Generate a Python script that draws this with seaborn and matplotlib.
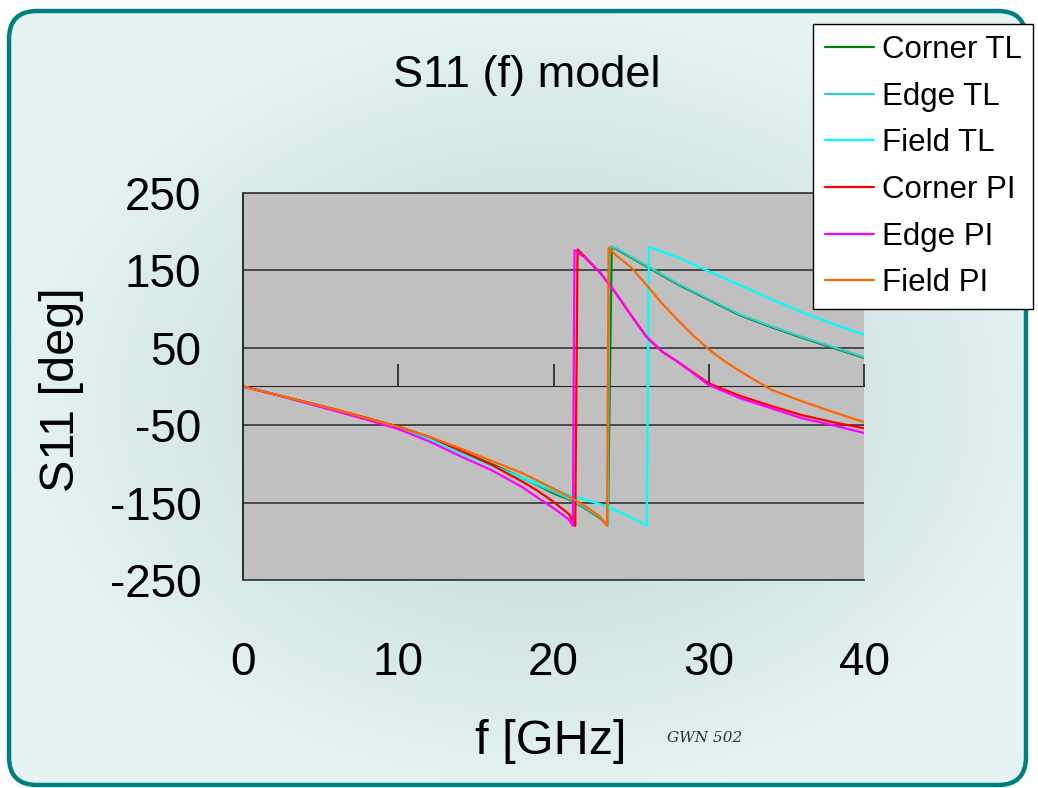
import numpy as np
import pandas as pd
import seaborn as sns
import matplotlib.pyplot as plt
from matplotlib.patches import FancyBboxPatch

# S11 phase (deg), wrapped to +-180
corner_tl_f = [0, 2, 4, 6, 8, 10, 12, 14, 16, 18, 20, 21, 22, 23, 23.5,
               23.75, 24, 26, 28, 30, 32, 34, 36, 38, 40]
corner_tl = [0, -10, -20, -30, -41, -52, -66, -83, -100, -118, -138, -146, -157, -170, -180,
             180, 178, 155, 132, 112, 92, 77, 63, 50, 37]

edge_tl_f = [0, 2, 4, 6, 8, 10, 12, 14, 16, 18, 20, 21, 22, 23, 23.5,
             23.6, 24, 26, 28, 30, 32, 34, 36, 38, 40]
edge_tl = [0, -10, -21, -31, -42, -53, -68, -85, -102, -119, -136, -145, -156, -169, -180,
           180, 179, 156, 133, 113, 93, 78, 64, 51, 38]

field_tl_f = [0, 2, 4, 6, 8, 10, 12, 14, 16, 18, 20, 21, 22, 23, 24, 25, 26,
              26.15, 28, 30, 32, 34, 36, 38, 40]
field_tl = [0, -10, -21, -31, -42, -53, -68, -86, -102, -118, -132, -140, -146, -152, -160, -169, -180,
            180, 167, 149, 131, 113, 96, 81, 67]

corner_pi_f = [0, 2, 4, 6, 8, 10, 12, 14, 16, 18, 19, 20, 21, 21.4,
               21.55, 22, 23, 24, 25, 26, 27, 28, 29, 30, 32, 34, 36, 38, 40]
corner_pi = [0, -10, -20, -30, -41, -52, -65, -83, -101, -123, -135, -149, -165, -180,
             177, 168, 147, 121, 92, 64, 45, 32, 18, 4, -12, -25, -37, -46, -54]

edge_pi_f = [0, 2, 4, 6, 8, 10, 12, 14, 16, 18, 19, 20, 21, 21.25,
             21.35, 22, 23, 24, 25, 26, 27, 28, 29, 30, 32, 34, 36, 38, 40]
edge_pi = [0, -10, -21, -32, -43, -55, -71, -90, -108, -130, -144, -157, -172, -180,
           176, 167, 147, 121, 92, 64, 45, 32, 17, 2, -15, -28, -41, -50, -60]

field_pi_f = [0, 2, 4, 6, 8, 10, 12, 14, 16, 18, 20, 21, 22, 23, 23.45,
              23.55, 24, 25, 26, 27, 28, 29, 30, 31, 32, 34, 36, 38, 40]
field_pi = [0, -10, -20, -30, -41, -52, -65, -80, -96, -112, -132, -142, -154, -168, -180,
            179, 170, 154, 131, 107, 86, 66, 48, 33, 20, -4, -19, -33, -46]

series_names = ["Corner TL", "Edge TL", "Field TL", "Corner PI", "Edge PI", "Field PI"]
series_colors = ["#008000", "#33CCCC", "#00FFFF", "#FF0000", "#FF00FF", "#FF6600"]
x_ticks = [0, 10, 20, 30, 40]
y_ticks = [-250, -150, -50, 50, 150, 250]

frames = []
for name, f, s in zip(series_names,
                      [corner_tl_f, edge_tl_f, field_tl_f, corner_pi_f, edge_pi_f, field_pi_f],
                      [corner_tl, edge_tl, field_tl, corner_pi, edge_pi, field_pi]):
    frames.append(pd.DataFrame({"f": f, "S11": s, "series": name}))
df = pd.concat(frames, ignore_index=True)

sns.set_style("white")
plt.rcParams['font.family'] = ['Liberation Sans', 'DejaVu Sans']
plt.rcParams['axes.unicode_minus'] = False
plt.rcParams['text.color'] = 'black'
plt.rcParams['xtick.color'] = 'black'
plt.rcParams['ytick.color'] = 'black'

W, H = 1038, 788
fig = plt.figure(figsize=(W / 100, H / 100), dpi=100)
fig.patch.set_facecolor("white")

# background panel: rounded teal frame with soft glow
bg = fig.add_axes([0, 0, 1, 1], zorder=-5)
bg.set_xlim(0, W)
bg.set_ylim(H, 0)
bg.axis("off")
yy, xx = np.mgrid[0:H, 0:W]
d = np.sqrt(((xx - 545) / 540.0) ** 2 + ((yy - 400) / 400.0) ** 2)
t = np.clip(d, 0, 1) ** 1.4
c_in = np.array([194, 218, 218]) / 255.0
c_out = np.array([230, 243, 243]) / 255.0
img = c_in[None, None, :] * (1 - t[..., None]) + c_out[None, None, :] * t[..., None]
im = bg.imshow(img, extent=(0, W, H, 0), aspect="auto", interpolation="bilinear")
frame = FancyBboxPatch((9, 11), W - 12 - 9, H - 3 - 11,
                       boxstyle="round,pad=0,rounding_size=28",
                       facecolor="none", edgecolor="#007F7F", linewidth=3.2)
bg.add_patch(frame)
im.set_clip_path(frame)

ax = fig.add_axes([243 / W, 1 - 580 / H, (864 - 243) / W, (580 - 193) / H])
ax.set_facecolor("#C0C0C0")
sns.lineplot(data=df, x="f", y="S11", hue="series", hue_order=series_names,
             palette=series_colors, estimator=None, sort=False, linewidth=1.6, ax=ax)

ax.set_xlim(0, 40)
ax.set_ylim(-250, 250)
ax.set_yticks(y_ticks)
ax.set_xticks(x_ticks)
ax.set_xticklabels([str(v) for v in x_ticks])
ax.grid(axis="y", color="#404040", linewidth=1.3)
ax.grid(axis="x", visible=False)
ax.tick_params(axis="x", length=0, pad=44, labelsize=33)
ax.tick_params(axis="y", length=0, pad=30, labelsize=33)
for side in ["top", "bottom"]:
    ax.spines[side].set_color("#404040")
    ax.spines[side].set_linewidth(1.3)
ax.spines["right"].set_visible(False)
ax.spines["left"].set_color("#202020")
ax.spines["left"].set_linewidth(1.3)
ax.set_xlabel("")
ax.set_ylabel("")

# x axis crossing at 0 deg
ax0 = ax.secondary_xaxis(0.5)
ax0.set_xticks([10, 20, 30, 40])
ax0.set_xticklabels([])
ax0.tick_params(direction="out", length=16, width=1.3, color="#303030")
ax0.spines["bottom"].set_color("#303030")
ax0.spines["bottom"].set_linewidth(1.3)

handles, labels = ax.get_legend_handles_labels()
ax.legend_.remove()
leg = fig.legend(handles, labels, loc="upper right",
                 bbox_to_anchor=(1033 / W, 1 - 24 / H), borderaxespad=0,
                 fontsize=22.5, frameon=True, fancybox=False, edgecolor="black",
                 framealpha=1, handlelength=1.57, handletextpad=0.26,
                 labelspacing=0.53, borderpad=0.36)
leg.get_frame().set_linewidth(1.0)
for line in leg.get_lines():
    line.set_linewidth(1.6)

fig.text(527 / W, 1 - 76 / H, "S11 (f) model", ha="center", va="center", fontsize=32.5)
fig.text(62 / W, 1 - 390 / H, "S11 [deg]", ha="center", va="center", rotation=90, fontsize=35)
fig.text(551 / W, 1 - 742 / H, "f [GHz]", ha="center", va="center", fontsize=35)
fig.text(705 / W, 1 - 738 / H, "GWN 502", ha="center", va="center", fontsize=11,
         style="italic", color="#303030", family="DejaVu Serif")

fig.savefig("out.png", dpi=100)
